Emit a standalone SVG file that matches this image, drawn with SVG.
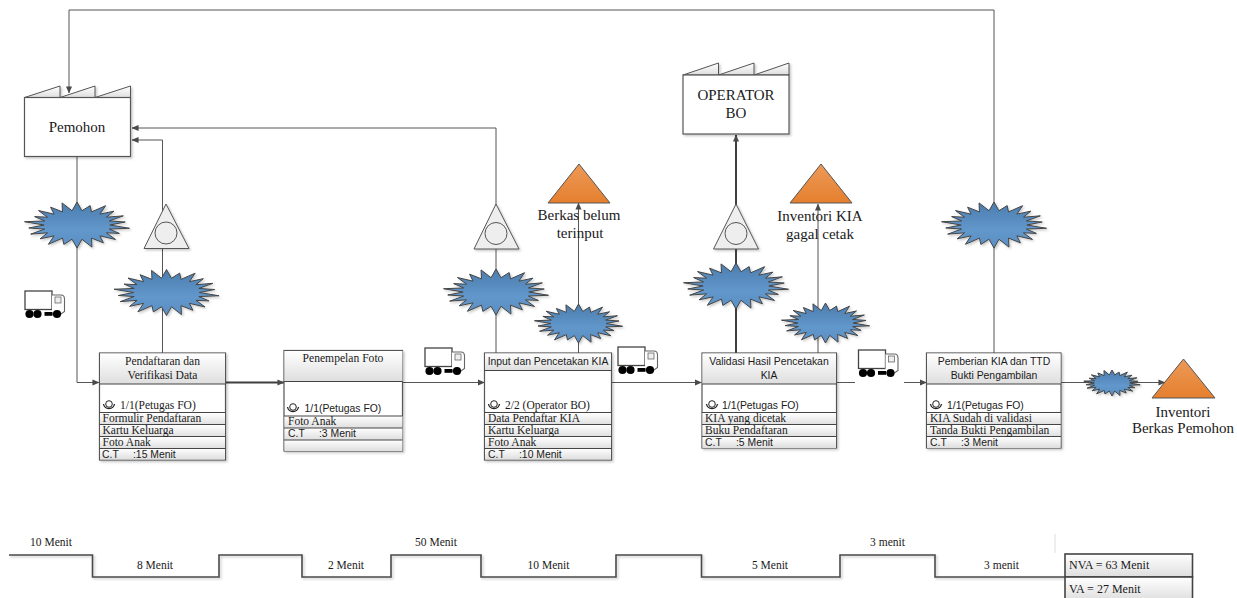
<svg xmlns="http://www.w3.org/2000/svg" xmlns:xlink="http://www.w3.org/1999/xlink" width="1237" height="598" viewBox="0 0 1237 598">
<style>
text{font-family:"Liberation Serif","Times New Roman",serif;font-size:11.5px;fill:#1a1a1a}
.s{font-family:"Liberation Sans",Arial,sans-serif;font-size:10.4px}
.big{font-size:15px;text-anchor:middle}
.m{text-anchor:middle}
.hd{font-size:11.6px}
.v{font-size:12px}
.c{fill:none;stroke:#555;stroke-width:1}
.t{fill:none;stroke:#3f3f3f;stroke-width:2}
.box{fill:#fff;stroke:#555;stroke-width:1.2}
.ln{stroke:#444;stroke-width:1;fill:none}
.burst{fill:url(#bg);stroke:#444;stroke-width:1;vector-effect:non-scaling-stroke}
.tri{fill:#eee;stroke:#555;stroke-width:1}
.or{fill:url(#og);stroke:#555;stroke-width:1}
.tl{fill:none;stroke:#4a4a4a;stroke-width:1.6}
</style>
<defs>
<linearGradient id="bg" x1="0" y1="0" x2="0" y2="1"><stop offset="0" stop-color="#4a7cae"/><stop offset=".6" stop-color="#6297cb"/><stop offset="1" stop-color="#5a8fc4"/></linearGradient>
<linearGradient id="og" x1="0" y1="0" x2="0" y2="1"><stop offset="0" stop-color="#ec9a58"/><stop offset="1" stop-color="#e57f2e"/></linearGradient>
<linearGradient id="hg" x1="0" y1="0" x2="0" y2="1"><stop offset="0" stop-color="#fff"/><stop offset="1" stop-color="#dedede"/></linearGradient>
<filter id="sh" x="-10%" y="-10%" width="125%" height="125%"><feDropShadow dx="1.5" dy="1.5" stdDeviation="1" flood-color="#000" flood-opacity=".22"/></filter>
<marker id="a" viewBox="0 0 8 8" refX="7.5" refY="4" markerWidth="7" markerHeight="7" markerUnits="userSpaceOnUse" orient="auto"><path d="M0,0.5L8,4L0,7.500z" fill="#4a4a4a"/></marker>
<polygon id="bp" points="0,-50 4.700,-31 12.400,-42.200 13.700,-28.500 27,-42 21.600,-23.600 34.800,-30.100 27.800,-17 43.700,-19.900 30.500,-8.800 45.500,-6.500 31,0 49.500,7.100 30.500,8.800 40,18.300 27.800,17 36.300,31.400 21.600,23.600 24.900,38.700 13.700,28.500 14.100,48 4.700,31 0,50 -4.700,31 -12.400,42.200 -13.700,28.500 -27,42 -21.600,23.600 -34.800,30.100 -27.800,17 -43.700,19.900 -30.500,8.800 -45.500,6.500 -31,0 -49.500,-7.100 -30.500,-8.800 -40,-18.300 -27.800,-17 -36.300,-31.400 -21.600,-23.600 -24.900,-38.700 -13.700,-28.500 -14.100,-48 -4.700,-31" class="burst"/>
<g id="truck">
<rect x="0" y="0" width="27" height="18.500" fill="#fff" stroke="#444" stroke-width="1.300"/>
<path d="M27,4H36Q39.500,4 39.500,8V20.500L36,23H27" fill="#fff" stroke="#666" stroke-width="1.100"/>
<rect x="30" y="6" width="6" height="6" fill="#eee" stroke="#666" stroke-width=".8"/>
<circle cx="4.500" cy="23" r="4.100" fill="#000"/><circle cx="12.500" cy="23" r="4.100" fill="#000"/><circle cx="32" cy="23" r="4.100" fill="#000"/>
<rect x="19.500" y="21" width="8" height="3.800" fill="#000"/>
</g>
<g id="op"><circle cx="0" cy="-2" r="3.300" fill="none" stroke="#222" stroke-width="1"/><path d="M-5.500,-2A5.600,5.600 0 0 0 5.500,-2" fill="none" stroke="#222" stroke-width="1.300"/></g>
</defs>

<g id="connectors">
<path class="c" marker-end="url(#a)" d="M994,353V10H69V93"/>
<path class="c" marker-end="url(#a)" d="M496,353V128H132"/>
<path class="c" marker-end="url(#a)" d="M162.500,353V140H132"/>
<path class="c" marker-end="url(#a)" d="M77,156V382.500H99"/>
<path class="t" marker-end="url(#a)" d="M226,382.500H284"/>
<path class="c" marker-end="url(#a)" d="M403,382.500H484.500"/>
<path class="c" marker-end="url(#a)" d="M612,382.500H701.500"/>
<path class="c" d="M837,382.500H855"/>
<path class="c" marker-end="url(#a)" d="M904,382.500H926.500"/>
<path class="c" marker-end="url(#a)" d="M1061,382.500H1165"/>
<path class="c" marker-end="url(#a)" d="M578.500,353V203"/>
<path class="c" marker-end="url(#a)" d="M818,353V204"/>
<path class="t" marker-end="url(#a)" d="M736,353V135"/>
</g>

<g id="pemohon" filter="url(#sh)">
<path d="M24.500,97.500L60,86V97.500L95,86V97.500L130.500,86V97.500Z" fill="url(#hg)" stroke="#555"/>
<rect class="box" x="24.500" y="97.500" width="106" height="59"/>
</g>
<text class="big" x="77" y="132">Pemohon</text>

<g id="operator-bo" filter="url(#sh)">
<path d="M683,75L718.500,63V75L754,63V75L789,63V75Z" fill="url(#hg)" stroke="#555"/>
<rect class="box" x="683" y="75" width="106" height="59"/>
</g>
<text class="big" x="736" y="100">OPERATOR</text><text class="big" x="736" y="118">BO</text>

<g id="burst-1" filter="url(#sh)"><use xlink:href="#bp" href="#bp" transform="translate(77,225) scale(1.060,.460)"/></g>
<g id="burst-2" filter="url(#sh)"><use xlink:href="#bp" href="#bp" transform="translate(166.500,292.500) scale(1.060,.460)"/></g>
<g id="burst-3" filter="url(#sh)"><use xlink:href="#bp" href="#bp" transform="translate(496,292) scale(1.060,.460)"/></g>
<g id="burst-4" filter="url(#sh)"><use xlink:href="#bp" href="#bp" transform="translate(578.500,323.500) scale(.890,.390)"/></g>
<g id="burst-5" filter="url(#sh)"><use xlink:href="#bp" href="#bp" transform="translate(736,286) scale(1.060,.460)"/></g>
<g id="burst-6" filter="url(#sh)"><use xlink:href="#bp" href="#bp" transform="translate(825.500,323) scale(.890,.400)"/></g>
<g id="burst-7" filter="url(#sh)"><use xlink:href="#bp" href="#bp" transform="translate(994,225) scale(1.060,.460)"/></g>
<g id="burst-8" filter="url(#sh)"><use xlink:href="#bp" href="#bp" transform="translate(1112,383) scale(.570,.260)"/></g>

<g id="inv-1" filter="url(#sh)"><path class="tri" d="M166,204L189,248.500H144Z"/><circle class="tri" cx="166" cy="233" r="11"/></g>
<g id="inv-2" filter="url(#sh)"><path class="tri" d="M496,204L519,249H474Z"/><circle class="tri" cx="496" cy="233.500" r="11"/></g>
<g id="inv-3" filter="url(#sh)"><path class="tri" d="M736,204L758.500,249H713.500Z"/><circle class="tri" cx="736" cy="233.500" r="11"/></g>

<g id="stock-1"><path class="or" d="M579,164L610,203H548Z"/></g>
<text class="big" x="579" y="220">Berkas belum</text><text class="big" x="580" y="238">terinput</text>
<g id="stock-2"><path class="or" d="M821,164L852,203H790Z"/></g>
<text class="big" x="820" y="221">Inventori KIA</text><text class="big" x="820" y="239">gagal cetak</text>
<g id="stock-3"><path class="or" d="M1183.500,359L1215,398H1152Z"/></g>
<text class="big" x="1183" y="417">Inventori</text><text class="big" x="1183" y="433">Berkas Pemohon</text>

<use xlink:href="#truck" href="#truck" x="25" y="291"/>
<use xlink:href="#truck" href="#truck" x="425" y="348"/>
<use xlink:href="#truck" href="#truck" x="618" y="347"/>
<use xlink:href="#truck" href="#truck" x="858.500" y="350"/>

<g id="proc-1">
<rect class="box" filter="url(#sh)" x="99.500" y="353" width="126" height="107"/>
<rect x="100" y="353.500" width="125" height="30.500" fill="url(#hg)"/>
<rect x="100" y="413" width="125" height="12" fill="url(#hg)"/><rect x="100" y="425" width="125" height="12" fill="url(#hg)"/><rect x="100" y="437" width="125" height="11.500" fill="url(#hg)"/><rect x="100" y="448.500" width="125" height="11" fill="url(#hg)"/>
<path class="ln" d="M99.500,384H225.500M99.500,412.500H225.500M99.500,424.500H225.500M99.500,436.500H225.500M99.500,448.500H225.500"/>
<text class="m hd" x="162.500" y="365">Pendaftaran dan</text><text class="m hd" x="162.500" y="379">Verifikasi Data</text>
<use xlink:href="#op" href="#op" x="109" y="406"/><text x="120" y="409">1/1(Petugas FO)</text>
<text x="102.500" y="422">Formulir Pendaftaran</text><text x="102.500" y="434">Kartu Keluarga</text><text x="102.500" y="446">Foto Anak</text>
<text class="s" x="102" y="457.500" xml:space="preserve">C.T     :15 Menit</text>
</g>

<g id="proc-2">
<rect class="box" filter="url(#sh)" x="284" y="350.500" width="118.500" height="100.500"/>
<rect x="284.500" y="351" width="118" height="30.500" fill="url(#hg)"/>
<rect x="284.500" y="416" width="118" height="12" fill="url(#hg)"/><rect x="284.500" y="428" width="118" height="12" fill="url(#hg)"/><rect x="284.500" y="440" width="118" height="11" fill="url(#hg)"/>
<path class="ln" d="M284,381.500H402.500M284,416H402.500M284,428H402.500M284,440H402.500"/>
<text class="m hd" x="343" y="362">Penempelan Foto</text>
<use xlink:href="#op" href="#op" x="293" y="409"/><text class="s" x="304.500" y="412">1/1(Petugas FO)</text>
<text x="288" y="425">Foto Anak</text>
<text class="s" x="288" y="437" xml:space="preserve">C.T     :3 Menit</text>
</g>

<g id="proc-3">
<rect class="box" filter="url(#sh)" x="484.500" y="353" width="127" height="107"/>
<rect x="485" y="353.500" width="126" height="17" fill="url(#hg)"/>
<rect x="485" y="413" width="126" height="12" fill="url(#hg)"/><rect x="485" y="425" width="126" height="12" fill="url(#hg)"/><rect x="485" y="437" width="126" height="11.500" fill="url(#hg)"/><rect x="485" y="448.500" width="126" height="11" fill="url(#hg)"/>
<path class="ln" d="M484.500,370.500H611.500M484.500,412.500H611.500M484.500,424.500H611.500M484.500,436.500H611.500M484.500,448.500H611.500"/>
<text class="s m" x="548" y="365">Input dan Pencetakan KIA</text>
<use xlink:href="#op" href="#op" x="494" y="406"/><text x="505" y="409">2/2 (Operator BO)</text>
<text x="488" y="422">Data Pendaftar KIA</text><text x="488" y="434">Kartu Keluarga</text><text x="488" y="446">Foto Anak</text>
<text class="s" x="488" y="457.500" xml:space="preserve">C.T     :10 Menit</text>
</g>

<g id="proc-4">
<rect class="box" filter="url(#sh)" x="702" y="353" width="134.500" height="95"/>
<rect x="702.500" y="353.500" width="133.500" height="30.500" fill="url(#hg)"/>
<rect x="702.500" y="413" width="133.500" height="12" fill="url(#hg)"/><rect x="702.500" y="425" width="133.500" height="12" fill="url(#hg)"/><rect x="702.500" y="437" width="133.500" height="11" fill="url(#hg)"/>
<path class="ln" d="M702,384H836.500M702,412.500H836.500M702,424.500H836.500M702,436.500H836.500"/>
<text class="s m" x="769" y="365">Validasi Hasil Pencetakan</text><text class="s m" x="769" y="379">KIA</text>
<use xlink:href="#op" href="#op" x="712" y="406"/><text class="s" x="722" y="409">1/1(Petugas FO)</text>
<text x="705" y="422">KIA yang dicetak</text><text x="705" y="434">Buku Pendaftaran</text>
<text class="s" x="705" y="446" xml:space="preserve">C.T     :5 Menit</text>
</g>

<g id="proc-5">
<rect class="box" filter="url(#sh)" x="926.500" y="353" width="134.500" height="95"/>
<rect x="927" y="353.500" width="133.500" height="30.500" fill="url(#hg)"/>
<rect x="927" y="413" width="133.500" height="12" fill="url(#hg)"/><rect x="927" y="425" width="133.500" height="12" fill="url(#hg)"/><rect x="927" y="437" width="133.500" height="11" fill="url(#hg)"/>
<path class="ln" d="M926.500,384H1061M926.500,412.500H1061M926.500,424.500H1061M926.500,436.500H1061"/>
<text class="s m" x="994" y="365">Pemberian KIA dan TTD</text><text class="s m" x="994" y="379">Bukti Pengambilan</text>
<use xlink:href="#op" href="#op" x="936" y="406"/><text class="s" x="947" y="409">1/1(Petugas FO)</text>
<text x="930" y="422">KIA Sudah di validasi</text><text x="930" y="434">Tanda Bukti Pengambilan</text>
<text class="s" x="930" y="446" xml:space="preserve">C.T     :3 Menit</text>
</g>

<g id="timeline">
<path class="tl" filter="url(#sh)" d="M9,555H92.500V577H219V555H302V577H391V555H481V577H616V555H701.500V577H840V555H935V577H1065"/>
<path d="M1055,534V553" stroke="#ddd" fill="none"/>
<rect x="1065" y="554" width="127.500" height="23" fill="url(#hg)" stroke="#444" stroke-width="1.600"/>
<rect x="1065" y="577" width="127.500" height="24" fill="url(#hg)" stroke="#444" stroke-width="1.600"/>
<text class="m" x="51" y="546">10 Menit</text><text class="m" x="155" y="569">8 Menit</text><text class="m" x="346" y="569">2 Menit</text><text class="m" x="436" y="546">50 Menit</text><text class="m" x="548.500" y="569">10 Menit</text><text class="m" x="770" y="569">5 Menit</text><text class="m" x="887.500" y="546">3 menit</text><text class="m" x="1001.500" y="569">3 menit</text>
<text class="v" x="1069" y="569">NVA = 63 Menit</text><text class="v" x="1069" y="593">VA = 27 Menit</text>
</g>
</svg>
